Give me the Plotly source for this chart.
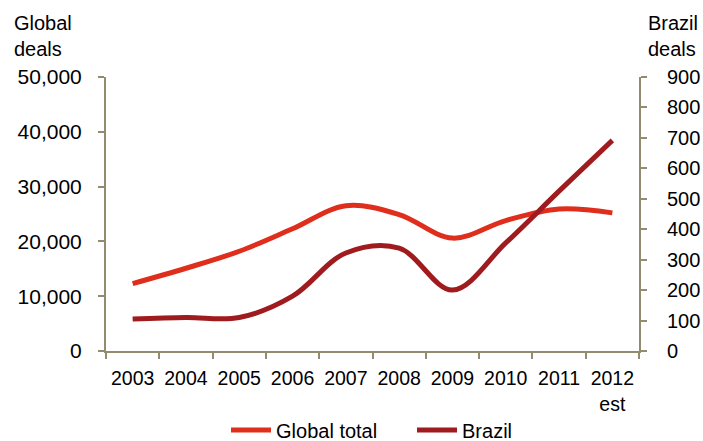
import plotly.graph_objects as go

# Deal counts by year
years = ["2003", "2004", "2005", "2006", "2007", "2008", "2009", "2010", "2011", "2012<br>est"]
global_total = [12300, 15100, 18200, 22300, 26500, 24900, 20600, 23800, 25900, 25200]
brazil = [105, 110, 110, 180, 322, 338, 200, 355, 525, 692]

AXIS = "#948A6E"
FONT = "Liberation Sans, Arial, sans-serif"

fig = go.Figure()
fig.add_trace(go.Scatter(
    x=years, y=global_total, name="Global total", mode="lines",
    line=dict(color="#E02E1C", width=5, shape="spline", smoothing=1.0),
    yaxis="y",
))
fig.add_trace(go.Scatter(
    x=years, y=brazil, name="Brazil", mode="lines",
    line=dict(color="#A01B1E", width=5, shape="spline", smoothing=1.0),
    yaxis="y2",
))

fig.update_layout(
    width=703, height=441,
    margin=dict(l=106, r=64, t=77, b=90, autoexpand=False),
    paper_bgcolor="white", plot_bgcolor="white",
    font=dict(family=FONT, size=20, color="#000000"),
    showlegend=True,
    legend=dict(orientation="h", x=0.3215, xanchor="left", xref="container",
                y=-0.288, yanchor="middle", yref="paper",
                font=dict(size=20), entrywidth=131, entrywidthmode="pixels",
                itemwidth=40, tracegroupgap=0),
    xaxis=dict(
        type="category", showgrid=False, showline=True, linecolor=AXIS, linewidth=2,
        ticks="outside", tickson="boundaries", ticklen=6, tickcolor=AXIS, tickwidth=2,
        range=[-0.5, 9.5], fixedrange=True, automargin=False, ticklabelstandoff=9,
        tickangle=0, tickfont=dict(size=19.5),
    ),
    yaxis=dict(
        range=[0, 50000], dtick=10000, tickformat=",", showgrid=False, zeroline=False,
        showline=True, linecolor=AXIS, linewidth=2, automargin=False,
        ticks="outside", ticklen=6, tickcolor=AXIS, tickwidth=2, ticklabelstandoff=12,
        tickfont=dict(size=21),
    ),
    yaxis2=dict(
        range=[0, 900], dtick=100, overlaying="y", side="right", showgrid=False,
        zeroline=False, showline=True, linecolor=AXIS, linewidth=2, automargin=False,
        ticks="outside", ticklen=6, tickcolor=AXIS, tickwidth=2, ticklabelstandoff=16,
    ),
    annotations=[
        dict(text="Global<br>deals", xref="paper", yref="paper", x=-0.176, y=1.245,
             xanchor="left", yanchor="top", showarrow=False, align="left",
             font=dict(size=20)),
        dict(text="Brazil<br>deals", xref="paper", yref="paper", x=1.013, y=1.245,
             xanchor="left", yanchor="top", showarrow=False, align="left",
             font=dict(size=20)),
    ],
)

fig.write_html("out.html")
